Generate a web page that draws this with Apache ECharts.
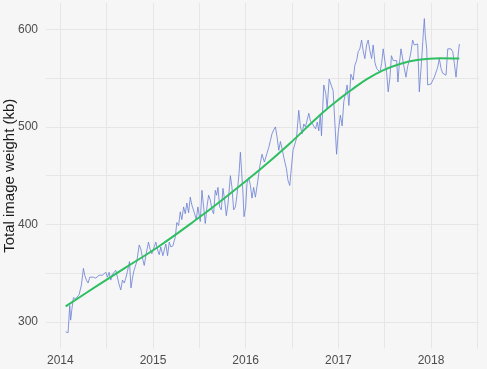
<!DOCTYPE html>
<html>
<head>
<meta charset="utf-8">
<script src="https://cdn.jsdelivr.net/npm/echarts@6/dist/echarts.min.js"></script>
<style>
html,body{margin:0;padding:0;background:#f6f6f6;}
#c{width:487px;height:369px;}
</style>
</head>
<body>
<div id="c"></div>
<script>
// Observation time (decimal year) and total image weight (kb)
const obsYear = [
2014.057,2014.083,2014.101,2014.111,2014.124,2014.141,2014.165,2014.184,2014.202,2014.227,
2014.249,2014.263,2014.281,2014.299,2014.317,2014.335,2014.357,2014.382,2014.400,2014.418,
2014.436,2014.454,2014.472,2014.490,2014.508,2014.526,2014.544,2014.562,2014.581,2014.598,
2014.616,2014.635,2014.652,2014.670,2014.689,2014.706,2014.724,2014.746,2014.762,2014.778,
2014.795,2014.825,2014.851,2014.868,2014.890,2014.905,2014.926,2014.951,2014.970,2014.987,
2015.013,2015.030,2015.049,2015.067,2015.084,2015.106,2015.121,2015.138,2015.157,2015.175,
2015.192,2015.214,2015.240,2015.257,2015.276,2015.294,2015.311,2015.330,2015.348,2015.365,
2015.384,2015.402,2015.419,2015.449,2015.467,2015.484,2015.510,2015.528,2015.546,2015.564,
2015.582,2015.600,2015.618,2015.636,2015.654,2015.672,2015.686,2015.701,2015.719,2015.737,
2015.755,2015.773,2015.791,2015.809,2015.835,2015.852,2015.870,2015.889,2015.906,2015.928,
2015.943,2015.971,2015.982,2016.000,2016.014,2016.032,2016.051,2016.068,2016.086,2016.105,
2016.130,2016.151,2016.176,2016.202,2016.230,2016.249,2016.267,2016.284,2016.303,2016.321,
2016.338,2016.357,2016.375,2016.392,2016.411,2016.440,2016.457,2016.476,2016.494,2016.511,
2016.530,2016.548,2016.573,2016.591,2016.609,2016.627,2016.645,2016.663,2016.681,2016.699,
2016.728,2016.754,2016.773,2016.789,2016.805,2016.818,2016.843,2016.865,2016.879,2016.901,
2016.919,2016.944,2016.962,2016.981,2016.998,2017.022,2017.041,2017.059,2017.081,2017.095,
2017.114,2017.135,2017.160,2017.178,2017.197,2017.214,2017.232,2017.251,2017.268,2017.286,
2017.305,2017.322,2017.341,2017.359,2017.376,2017.395,2017.413,2017.430,2017.449,2017.467,
2017.484,2017.503,2017.521,2017.538,2017.557,2017.573,2017.592,2017.611,2017.629,2017.643,
2017.657,2017.676,2017.690,2017.708,2017.730,2017.748,2017.765,2017.784,2017.802,2017.819,
2017.838,2017.856,2017.874,2017.900,2017.917,2017.928,2017.938,2017.954,2017.964,2018.000,
2018.036,2018.072,2018.090,2018.108,2018.126,2018.162,2018.181,2018.216,2018.235,2018.252,
2018.270,2018.289,2018.306
];
const imageKb = [
290,289,317,302,313,325,324,322,328,338,
355,348,343,340,346,344,346,345,347,348,
350,348,350,351,346,351,343,349,351,353,
346,338,333,343,340,345,352,362,335,345,
353,362,379,375,364,358,370,382,374,370,
377,382,374,369,377,368,366,380,368,382,
377,378,387,402,399,413,405,418,411,422,
412,428,420,411,405,418,403,435,418,401,
418,430,425,415,411,435,430,438,418,415,
437,425,409,421,450,438,415,418,430,452,
474,432,408,418,442,448,440,427,438,428,
444,459,472,464,473,479,486,493,497,500,
490,476,485,478,469,457,445,440,459,476,
474,488,517,500,493,503,500,502,514,506,
502,498,505,496,513,491,543,534,519,549,
551,537,505,472,494,512,501,526,536,543,
522,554,548,563,568,577,580,589,578,570,
584,589,578,570,584,566,560,561,556,565,
580,567,556,536,551,573,568,569,568,546,
563,580,582,562,551,562,568,577,589,584,
584,585,536,570,596,611,594,580,543,544,
551,561,570,560,555,553,580,580,577,565,
551,570,585
];
// Smoothed trend (loess)
const trendYear = [2014.057,2014.378,2014.724,2015.070,2015.438,2015.784,2016.151,2016.476,2016.800,2017.016,2017.157,2017.308,2017.481,2017.665,2017.849,2018.097,2018.306];
const trendKb   = [316,336,357,378,403,428,456,483,512,529,539,549,558,564.5,568.5,570.5,570];
// Tick labels and gridlines
const xTickYears = [2014,2015,2016,2017,2018];
const xGridYears = [2014,2014.5,2015,2015.5,2016,2016.5,2017,2017.5,2018,2018.5];
const yTicks = [300,400,500,600];
const yGrid = [300,350,400,450,500,550,600];

const obs = obsYear.map((t,i)=>[t,imageKb[i]]);
const trend = trendYear.map((t,i)=>[t,trendKb[i]]);
const gridColor = '#e6e6e6';
const font = '"Liberation Sans", Arial, sans-serif';

const chart = echarts.init(document.getElementById('c'), null, {renderer:'canvas'});
chart.setOption({
  backgroundColor:'#f6f6f6',
  animation:false,
  grid:{left:46,right:8,top:3,bottom:20.5,containLabel:false,outerBoundsMode:'none'},
  xAxis:{
    type:'value', min:2013.845, max:2018.518,
    axisLine:{show:false}, axisTick:{show:false}, splitLine:{show:false},
    axisLabel:{customValues:xTickYears, color:'#4d4d4d', fontSize:12, fontFamily:font, margin:6, formatter:v=>String(Math.round(v))}
  },
  yAxis:{
    type:'value', min:272.9, max:627,
    name:'Total image weight (kb)', nameLocation:'middle', nameRotate:90, nameGap:29, nameMoveOverlap:false,
    nameTextStyle:{color:'#1a1a1a', fontSize:15, fontFamily:font},
    axisLine:{show:false}, axisTick:{show:false}, splitLine:{show:false},
    axisLabel:{customValues:yTicks, color:'#4d4d4d', fontSize:12, fontFamily:font, margin:8}
  },
  series:[
    {
      type:'line', data:[], silent:true, z:0,
      markLine:{
        silent:true, z:0, symbol:['none','none'], label:{show:false},
        lineStyle:{color:gridColor, width:1, type:'solid'},
        data: xGridYears.map(v=>({xAxis:v})).concat(yGrid.map(v=>({yAxis:v})))
      }
    },
    {
      type:'line', data:obs, showSymbol:false, z:2,
      lineStyle:{color:'#6b7fd4', width:0.9, opacity:0.9}
    },
    {
      type:'line', data:trend, showSymbol:false, smooth:0.4, z:3,
      lineStyle:{color:'#2fbf62', width:2}
    }
  ]
});
</script>
</body>
</html>
